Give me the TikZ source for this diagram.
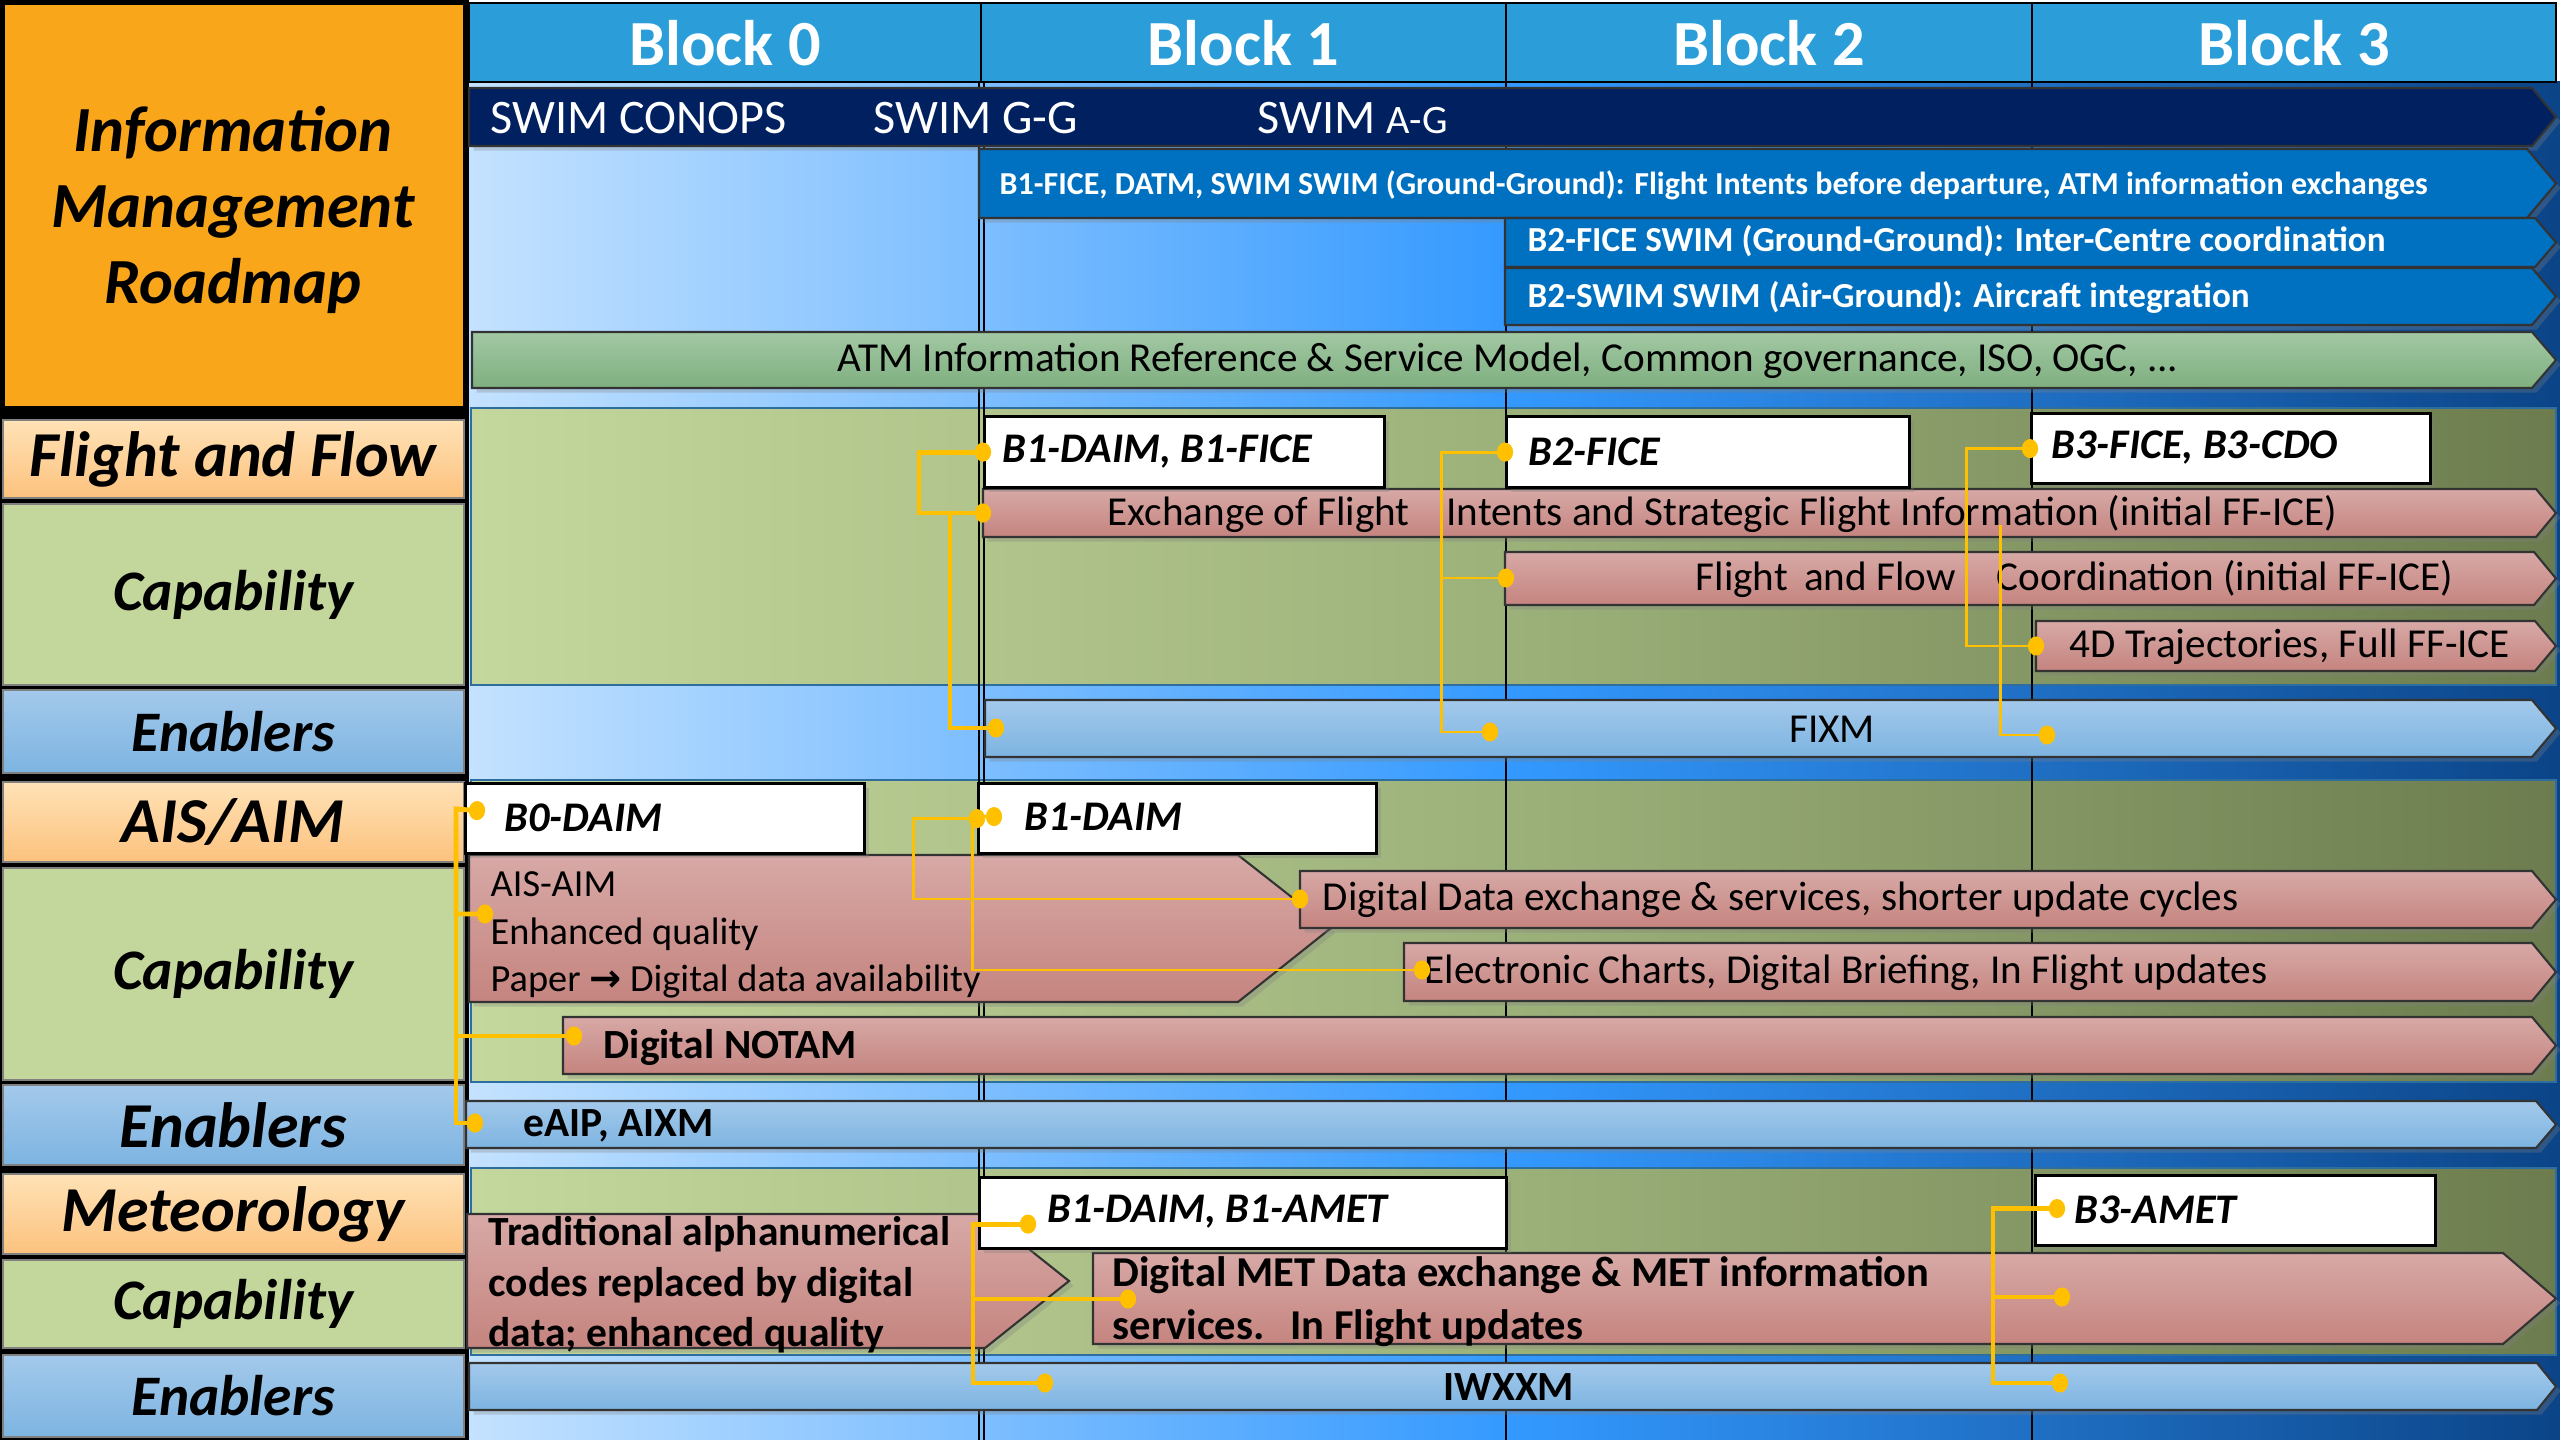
\documentclass[tikz,border=0pt]{standalone}
\usepackage{fontspec}
\setmainfont{Carlito}
\newfontfamily\arrowfont{DejaVu Sans}
\usetikzlibrary{arrows.meta,calc,shadows}

\definecolor{roadorange}{HTML}{F9A61A}
\definecolor{peachtop}{HTML}{FFE2B6}
\definecolor{peachbot}{HTML}{FCC27E}
\definecolor{capgreen}{HTML}{C3D69B}
\definecolor{enabtop}{HTML}{A3C9EB}
\definecolor{enabbot}{HTML}{7DB4E1}
\definecolor{blockblue}{HTML}{2B9ED9}
\definecolor{swimnavy}{HTML}{002060}
\definecolor{swimblue}{HTML}{0070C0}
\definecolor{atmtop}{HTML}{A2C8A4}
\definecolor{atmbot}{HTML}{7FAF7F}
\definecolor{pinktop}{HTML}{D7A9A6}
\definecolor{pinkbot}{HTML}{C5847F}
\definecolor{linkyellow}{HTML}{FFC000}
\definecolor{bgleft}{HTML}{C4E2FF}
\definecolor{bgmid}{HTML}{3399FF}
\definecolor{bgright}{HTML}{0B4487}
\definecolor{grleft}{HTML}{C4D79C}
\definecolor{grmid}{HTML}{9CB17A}
\definecolor{grright}{HTML}{6C7C4E}
\definecolor{panelline}{HTML}{2E6E9E}

\tikzset{
    %% left column
    titlebox/.style={fill=roadorange, draw=black, line width=1pt},
    headbox/.style={top color=peachtop, bottom color=peachbot, draw=black!50},
    capbox/.style={fill=capgreen, draw=black!50},
    enabbox/.style={top color=enabtop, bottom color=enabbot, draw=black!50},
    titletxt/.style={font=\fontsize{18.3}{21.6}\selectfont\bfseries\itshape, align=center, inner sep=0pt},
    bigcat/.style={font=\fontsize{18.2}{21}\selectfont\bfseries\itshape, inner sep=0pt},
    smallcat/.style={font=\fontsize{16.3}{19}\selectfont\bfseries\itshape, inner sep=0pt},
    %% timeline
    shadowed/.style={drop shadow={shadow xshift=1.3pt, shadow yshift=-1.3pt, opacity=0.3}},
    band/.style={draw=black!80, line width=0.6pt, shadowed},
    navyband/.style={band, fill=swimnavy},
    blueband/.style={band, fill=swimblue},
    atmband/.style={band, top color=atmtop, bottom color=atmbot},
    pinkband/.style={band, top color=pinktop, bottom color=pinkbot},
    enabband/.style={band, top color=enabtop, bottom color=enabbot},
    wbox/.style={fill=white, draw=black, line width=0.9pt, anchor=north west, inner sep=0pt, shadowed},
    blocktxt/.style={font=\fontsize{18.3}{21}\selectfont\bfseries, text=white, inner sep=0pt},
    swimtxt/.style={font=\fontsize{13.7}{16}\selectfont, text=white, anchor=west, inner sep=0pt},
    bandtxt/.style={font=\fontsize{10}{12}\selectfont\bfseries, text=white, anchor=west, inner sep=0pt},
    bodytxt/.style={font=\fontsize{11.7}{14}\selectfont, anchor=west, inner sep=0pt},
    boldtxt/.style={font=\fontsize{11.8}{14}\selectfont\bfseries, anchor=west, inner sep=0pt},
    boxtxt/.style={font=\fontsize{12}{14}\selectfont\bfseries\itshape, anchor=west, inner sep=0pt},
    %% connectors
    link/.style={draw=linkyellow, line width=1.4pt},
    link thin/.style={draw=linkyellow, line width=0.85pt},
    ends/.style={arrows={Circle[length=4.6pt,width=5.4pt]-Circle[length=4.6pt,width=5.4pt]}, shorten <=-2.3pt, shorten >=-2.3pt},
    tipend/.style={arrows={-Circle[length=4.6pt,width=5.4pt]}, shorten >=-2.3pt}
}

\begin{document}
\begin{tikzpicture}[x=0.01cm, y=-0.01cm]
    \useasboundingbox (0,0) rectangle (2560,1440);
    %% left column
    \fill[black] (0,0) rectangle (469,1440);
    \draw[titlebox] (3,3) rectangle (465,408);
    \node[titletxt] (title) at (233,210) {Information\\Management\\Roadmap};
    \foreach \ya/\yb/\boxsty/\fntsty/\nm/\txt in {
        420/498/headbox/bigcat/ffhead/Flight and Flow,
        504/685/capbox/smallcat/ffcap/Capability,
        690/773/enabbox/smallcat/ffenab/Enablers,
        782/862/headbox/bigcat/aishead/{AIS/AIM},
        868/1080/capbox/smallcat/aiscap/Capability,
        1085/1165/enabbox/bigcat/aisenab/Enablers,
        1174/1254/headbox/bigcat/methead/Meteorology,
        1260/1348/capbox/smallcat/metcap/Capability,
        1355/1437/enabbox/smallcat/metenab/Enablers}{
        \path[\boxsty] (3,\ya) rectangle (464,\yb);
        \node[\fntsty] (\nm) at (233,{(\ya+\yb)/2}) {\txt};
    }

    %% timeline background
    \shade[left color=bgleft, right color=bgright, middle color=bgmid] (469,82) rectangle (2560,1440);
    %% capability panels
    \foreach \ya/\yb in {408/685, 780/1082, 1168/1355}
        \shadedraw[left color=grleft, right color=grright, middle color=grmid, draw=panelline, line width=0.8pt] (471,\ya) rectangle (2556,\yb);
    %% block boundaries
    \foreach \x in {979,984,1506,2032}
        \draw[line width=0.6pt] (\x,82) -- (\x,1440);
    %% block header
    \foreach \xa/\xb/\n in {469/981/0, 981/1506/1, 1506/2032/2, 2032/2556/3}{
        \draw[fill=blockblue, line width=0.6pt] (\xa,3) rectangle (\xb,82);
        \node[blocktxt] (block\n) at ({(\xa+\xb)/2},43) {Block \n};
    }

    %% information management bands
    \path[navyband] (469,88) -- (2532,88) -- (2556,117) -- (2532,146) -- (469,146) -- cycle;
    \node[swimtxt] (conops) at (490,118) {SWIM CONOPS};
    \node[swimtxt] (swimgg) at (873,118) {SWIM G-G};
    \node[swimtxt] (swimag) at (1257,118) {SWIM {\fontsize{11.5}{13}\selectfont A-G}};
    \path[blueband] (979,149) -- (2527,149) -- (2556,183.5) -- (2527,218) -- (979,218) -- cycle;
    \node[bandtxt, font=\fontsize{9.1}{11}\selectfont\bfseries] (ggb1) at (999,185) {B1-FICE, DATM, SWIM SWIM (Ground-Ground): Flight Intents before departure, ATM information exchanges};
    \path[blueband] (1505,218) -- (2535,218) -- (2556,242.5) -- (2535,267) -- (1505,267) -- cycle;
    \node[bandtxt] (ggb2) at (1527,241) {B2-FICE SWIM (Ground-Ground): Inter-Centre coordination};
    \path[blueband] (1505,268) -- (2532,268) -- (2556,296.5) -- (2532,325) -- (1505,325) -- cycle;
    \node[bandtxt] (agb2) at (1527,297) {B2-SWIM SWIM (Air-Ground): Aircraft integration};
    \path[atmband] (472,332) -- (2532,332) -- (2556,360) -- (2532,388) -- (472,388) -- cycle;
    \node[bodytxt, anchor=center] (atmref) at (1508,361) {ATM Information Reference \& Service Model, Common governance, ISO, OGC, ...};

    %% flight and flow
    \path[pinkband] (983,489) -- (2536,489) -- (2556,513) -- (2536,537) -- (983,537) -- cycle;
    \node[bodytxt] (xchg) at (1107,514) {Exchange of Flight\hspace{0.9em}Intents and Strategic Flight Information (initial FF-ICE)};
    \path[pinkband] (1505,552) -- (2534,552) -- (2556,578.5) -- (2534,605) -- (1505,605) -- cycle;
    \node[bodytxt] (flow) at (1695,579) {Flight\hspace{0.4em}and Flow\hspace{1em}Coordination (initial FF-ICE)};
    \path[pinkband] (2036,621) -- (2535,621) -- (2556,646) -- (2535,671) -- (2036,671) -- cycle;
    \node[bodytxt] (fourd) at (2069,647) {4D Trajectories, Full FF-ICE};
    \path[enabband] (985,700) -- (2532,700) -- (2556,728.5) -- (2532,757) -- (985,757) -- cycle;
    \node[bodytxt, anchor=center] (fixm) at (1832,729) {FIXM};
    \node[wbox, minimum width=4cm, minimum height=0.71cm] (ffB1) at (983,415) {};
    \node[boxtxt] (ffB1txt) at (1002,452) {B1-DAIM, B1-FICE};
    \node[wbox, minimum width=4.03cm, minimum height=0.71cm] (ffB2) at (1505,415) {};
    \node[boxtxt] (ffB2txt) at (1528,452) {B2-FICE};
    \node[wbox, minimum width=3.99cm, minimum height=0.7cm] (ffB3) at (2030,412) {};
    \node[boxtxt] (ffB3txt) at (2051,448) {B3-FICE, B3-CDO};
    \coordinate (xchgL) at (983,513);
    \coordinate (flowL) at (1506,578);
    \coordinate (fourdL) at (2036,646);
    \coordinate (fixmB1) at (996,728);
    \coordinate (fixmB2) at (1490,732);
    \coordinate (fixmB3) at (2047,735);
    \coordinate (ffB3free) at (2000,525);

    %% ais/aim
    \path[pinkband] (469,855) -- (1238,855) -- (1331,928) -- (1238,1002) -- (469,1002) -- cycle;
    \node[bodytxt, align=left, font=\fontsize{10.9}{13.5}\selectfont] (aisaim) at (490,935) {AIS-AIM\\Enhanced quality\\Paper {\arrowfont\bfseries →} Digital data availability};
    \path[pinkband] (1300,871) -- (2532,871) -- (2556,899.5) -- (2532,928) -- (1300,928) -- cycle;
    \node[bodytxt] (ddata) at (1322,900) {Digital Data exchange \& services, shorter update cycles};
    \path[pinkband] (1404,943) -- (2532,943) -- (2556,972) -- (2532,1001) -- (1404,1001) -- cycle;
    \node[bodytxt] (echart) at (1424,973) {Electronic Charts, Digital Briefing, In Flight updates};
    \path[pinkband] (563,1017) -- (2532,1017) -- (2556,1045.5) -- (2532,1074) -- (563,1074) -- cycle;
    \node[boldtxt] (notam) at (603,1047) {Digital NOTAM};
    \path[enabband] (466,1101) -- (2536,1101) -- (2556,1124.5) -- (2536,1148) -- (466,1148) -- cycle;
    \node[boldtxt] (eaip) at (523,1126) {eAIP, AIXM};
    \node[wbox, minimum width=3.99cm, minimum height=0.7cm] (aisB0) at (464,782) {};
    \node[boxtxt] (aisB0txt) at (504,818) {B0-DAIM};
    \node[wbox, minimum width=3.98cm, minimum height=0.7cm] (aisB1) at (977,782) {};
    \node[boxtxt] (aisB1txt) at (1024,817) {B1-DAIM};
    \coordinate (aisbus) at (456,809);
    \coordinate (aimL) at (485,914);
    \coordinate (notamL) at (574,1036);
    \coordinate (eaipL) at (475,1123);
    \coordinate (ddataL) at (1300,899);
    \coordinate (echartL) at (1422,970);

    %% meteorology
    \path[pinkband] (467,1214) -- (985,1214) -- (1069,1281) -- (985,1348) -- (467,1348) -- cycle;
    \node[boldtxt, align=left, font=\fontsize{11.8}{14.4}\selectfont\bfseries] (tradmet) at (488,1285) {Traditional alphanumerical\\codes replaced by digital\\data; enhanced quality};
    \path[pinkband] (1093,1253) -- (2503,1253) -- (2556,1298.5) -- (2503,1344) -- (1093,1344) -- cycle;
    \node[boldtxt, align=left, font=\fontsize{12.1}{15}\selectfont\bfseries] (digmet) at (1112,1302) {Digital MET Data exchange \& MET information\\services.\hspace{0.6em}In Flight updates};
    \path[enabband] (469,1363) -- (2537,1363) -- (2556,1386.5) -- (2537,1410) -- (469,1410) -- cycle;
    \node[boldtxt, anchor=center] (iwxxm) at (1509,1387) {IWXXM};
    \node[wbox, minimum width=5.27cm, minimum height=0.71cm] (metB1) at (978,1176) {};
    \node[boxtxt] (metB1txt) at (1047,1212) {B1-DAIM, B1-AMET};
    \node[wbox, minimum width=4cm, minimum height=0.7cm] (metB3) at (2034,1174) {};
    \node[boxtxt] (metB3txt) at (2074,1210) {B3-AMET};
    \coordinate (metL1) at (1128,1299);
    \coordinate (iwxL1) at (1045,1383);
    \coordinate (metL3) at (2062,1297);
    \coordinate (iwxL3) at (2060,1383);

    %% connectors
    \draw[link, ends] (ffB1.west) -- ++(-64,0) |- (xchgL);
    \draw[link, tipend] ($(xchgL)+(-33,0)$) |- (fixmB1);
    \draw[link thin, ends] (ffB2.west) -- ++(-64,0) |- (flowL);
    \draw[link thin, tipend] ($(ffB2.west)+(-64,0)$) |- (fixmB2);
    \draw[link thin, ends] (ffB3.west) -- ++(-64,0) |- (fourdL);
    \draw[link thin, tipend] (ffB3free) |- (fixmB3);
    \draw[link, ends] ($(aisB0.west)+(13,-8)$) -- (aisbus) |- (aimL);
    \draw[link, tipend] (aisbus) |- (notamL);
    \draw[link, tipend] (aisbus) |- (eaipL);
    \draw[link thin, ends] (aisB1.west) -- ++(-64,0) |- (ddataL);
    \draw[link thin, ends] ($(aisB1.west)+(17,-2)$) -- ++(-22,0) |- (echartL);
    \draw[link, ends] ($(metB1.west)+(50,11)$) -- ++(-55,0) |- (metL1);
    \draw[link, tipend] ($(metB1.west)+(-5,11)$) |- (iwxL1);
    \draw[link, ends] ($(metB3.west)+(23,-2)$) -- ++(-64,0) |- (metL3);
    \draw[link, tipend] ($(metB3.west)+(-41,-2)$) |- (iwxL3);
\end{tikzpicture}
\end{document}
